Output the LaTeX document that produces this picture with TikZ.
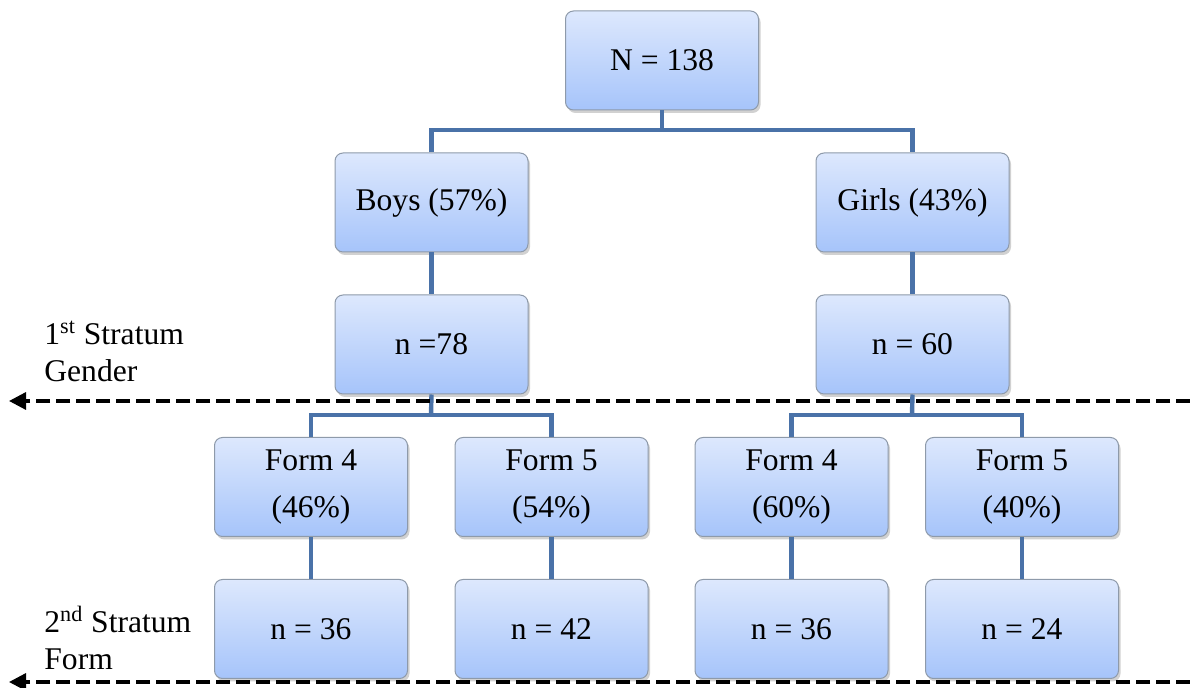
\documentclass[tikz,border=0pt]{standalone}
\usepackage{fontspec}
\setmainfont{Liberation Serif}
\usetikzlibrary{arrows.meta,shadows}
\definecolor{boxtop}{HTML}{DDE8FD}
\definecolor{boxbot}{HTML}{A6C4FA}
\definecolor{boxline}{HTML}{8E9AAA}
\definecolor{connblue}{HTML}{4A72A8}
\begin{document}
\begin{tikzpicture}[x=0.5pt,y=-0.5pt,
  box/.style={draw=boxline, line width=0.5pt, rounded corners=4pt,
    top color=boxtop, bottom color=boxbot,
    minimum width=96.5pt, minimum height=49.5pt, inner sep=0pt,
    align=center, font=\fontsize{15.8}{23.5}\selectfont,
    drop shadow={shadow xshift=1pt, shadow yshift=-1.5pt, opacity=0.3, fill=black!60}},
  conn/.style={draw=connblue, line width=2.2pt},
  stratum/.style={draw=black, line width=1.6pt, dash pattern=on 7pt off 3pt,
    -{Triangle[length=8.5pt,width=8.5pt]}},
  label/.style={align=left, anchor=north west, inner sep=0pt,
    font=\fontsize{15.8}{18.5}\selectfont}]
\useasboundingbox (0,0) rectangle (1190,688);
\coordinate (j1) at (662,130);
\coordinate (j2) at (431,415);
\coordinate (j3) at (912,415);
% boxes
\node[box] (top) at (662,60.5) {N = 138};
\node[box] (boys) at (431.5,202.5) {Boys (57\%)};
\node[box] (girls) at (912.5,202.5) {Girls (43\%)};
\node[box] (nb) at (431.5,344.5) {n =78};
\node[box] (ng) at (912.5,344.5) {n = 60};
\node[box] (f4b) at (311,487) {Form 4\\(46\%)};
\node[box] (f5b) at (551.5,487) {Form 5\\(54\%)};
\node[box] (f4g) at (791.5,487) {Form 4\\(60\%)};
\node[box] (f5g) at (1022,487) {Form 5\\(40\%)};
\node[box] (mb4) at (311,629) {n = 36};
\node[box] (mb5) at (551.5,629) {n = 42};
\node[box] (mg4) at (791.5,629) {n = 36};
\node[box] (mg5) at (1022,629) {n = 24};
% connectors
\draw[conn] (top.south) -- (j1);
\draw[conn] (boys.north) |- (j1) -| (girls.north);
\draw[conn] (boys.south) -- (nb.north);
\draw[conn] (girls.south) -- (ng.north);
\draw[conn] (nb.south) -- (j2);
\draw[conn] (f4b.north) |- (j2) -| (f5b.north);
\draw[conn] (ng.south) -- (j3);
\draw[conn] (f4g.north) |- (j3) -| (f5g.north);
\draw[conn] (f4b.south) -- (mb4.north);
\draw[conn] (f5b.south) -- (mb5.north);
\draw[conn] (f4g.south) -- (mg4.north);
\draw[conn] (f5g.south) -- (mg5.north);
% stratum lines
\coordinate (s1r) at (1190,401);
\coordinate (s1l) at (9,401);
\coordinate (s2r) at (1190,682);
\coordinate (s2l) at (9,682);
\draw[stratum] (s1r) -- (s1l);
\draw[stratum] (s2r) -- (s2l);
% labels
\node[label] (l1) at (44,321) {1\textsuperscript{st} Stratum\\Gender};
\node[label] (l2) at (44,606) {2\textsuperscript{nd} Stratum\\Form};
\end{tikzpicture}
\end{document}
